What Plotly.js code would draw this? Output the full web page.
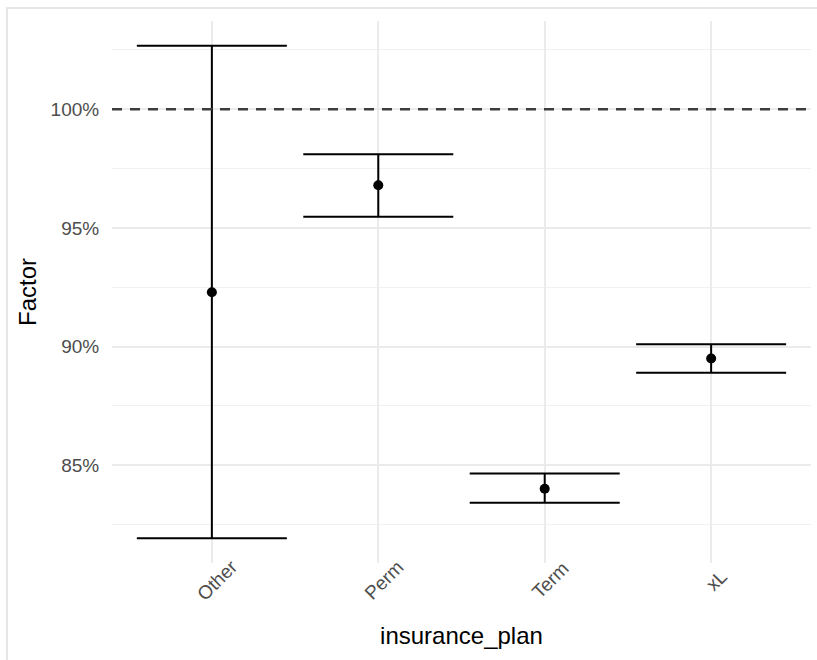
<!DOCTYPE html>
<html>
<head>
<meta charset="utf-8">
<script src="https://cdn.plot.ly/plotly-3.0.1.min.js"></script>
<style>
  html, body { margin: 0; padding: 0; background: #ffffff; overflow: hidden; }
  #wrap { position: relative; width: 817px; height: 660px; }
  #chart { position: absolute; left: 0; top: 0; width: 817px; height: 660px; }
  #frame { position: absolute; left: 6px; top: 7px; width: 900px; height: 800px;
           border: 2px solid #e6e6e6; pointer-events: none; box-sizing: border-box; }
</style>
</head>
<body>
<div id="wrap">
  <div id="chart"></div>
  <div id="frame"></div>
</div>
<script>
// Data (values in percent)
const plans = ["Other", "Perm", "Term", "xL"];
const factor = [92.29, 96.80, 84.01, 89.50];
const upper  = [102.68, 98.11, 84.65, 90.10];
const lower  = [81.92, 95.47, 83.42, 88.90];
const yTickVals = [85, 90, 95, 100];
const yTickText = ["85%", "90%", "95%", "100%"];
const referenceLine = 100;

const errPlus = upper.map((u, i) => u - factor[i]);
const errMinus = lower.map((l, i) => factor[i] - l);

const trace = {
  type: "scatter",
  mode: "markers",
  x: plans,
  y: factor,
  marker: { color: "#000000", size: 10 },
  error_y: {
    type: "data",
    symmetric: false,
    array: errPlus,
    arrayminus: errMinus,
    color: "#000000",
    thickness: 2,
    width: 75
  },
  hoverinfo: "x+y",
  showlegend: false
};

const tickFont = { family: "Liberation Sans, Arial, sans-serif", size: 19, color: "#4d4d4d" };

const annotations = plans.map(p => ({
  x: p, xref: "x", y: 0, yref: "paper",
  text: p, showarrow: false, textangle: -45,
  xanchor: "center", yanchor: "middle",
  xshift: 5, yshift: -17,
  font: tickFont
}));

const layout = {
  width: 817,
  height: 660,
  margin: { l: 112, r: 6, t: 21, b: 97, pad: 0 },
  paper_bgcolor: "#ffffff",
  plot_bgcolor: "#ffffff",
  font: { family: "Liberation Sans, Arial, sans-serif", color: "#000000" },
  showlegend: false,
  xaxis: {
    type: "category",
    range: [-0.6, 3.6],
    showgrid: true,
    gridcolor: "#ebebeb",
    gridwidth: 2,
    zeroline: false,
    showline: false,
    ticks: "",
    showticklabels: false,
    title: { text: "insurance_plan", font: { size: 24, color: "#000000" }, standoff: 64 },
    fixedrange: true
  },
  yaxis: {
    range: [80.88, 103.72],
    tickvals: yTickVals,
    ticktext: yTickText,
    showgrid: true,
    gridcolor: "#ebebeb",
    gridwidth: 2,
    minor: { dtick: 2.5, tick0: 0, showgrid: true, gridcolor: "#f0f0f0", gridwidth: 1, ticks: "" },
    zeroline: false,
    showline: false,
    ticks: "outside",
    ticklen: 8,
    tickcolor: "rgba(0,0,0,0)",
    tickfont: tickFont,
    title: { text: "Factor", font: { size: 24, color: "#000000" }, standoff: 7 },
    fixedrange: true
  },
  shapes: [{
    type: "line", xref: "paper", x0: 0, x1: 1, yref: "y", y0: referenceLine, y1: referenceLine,
    line: { color: "#3d3d3d", width: 2.5, dash: "10px,8px" },
    layer: "above"
  }],
  annotations: annotations
};

Plotly.newPlot("chart", [trace], layout, { displayModeBar: false, staticPlot: true });
</script>
</body>
</html>
